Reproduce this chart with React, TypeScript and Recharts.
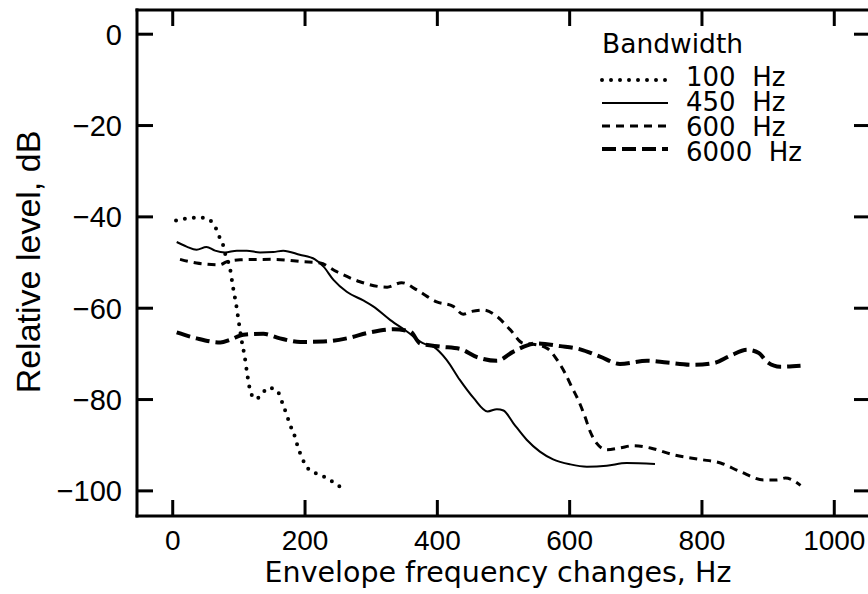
import { LineChart, Line, XAxis, YAxis, Legend } from 'recharts'

// envelope frequency (Hz) vs relative level (dB)
const FREQ_TICKS = [0, 200, 400, 600, 800, 1000]
const LEVEL_TICKS = [0, -20, -40, -60, -80, -100]

const bw100: [number, number][] = [
  [5, -40.8], [19, -40.4], [32, -40.2], [45, -40.2], [56, -40.7], [65, -42.4], [70, -44.2],
  [76, -46.1], [79, -47.9], [87, -51.6], [91, -55.3], [96, -59.3], [100, -63.2], [104, -66.9],
  [109, -70.8], [113, -74.8], [118, -78.5], [125, -79.9], [135, -78.8], [144, -77.4],
  [156, -77.9], [163, -79.5], [167, -81.4], [172, -83.1], [176, -85.0], [181, -86.8],
  [186, -88.7], [189, -90.4], [194, -92.2], [199, -93.9], [208, -95.6], [220, -96.3],
  [233, -97.2], [244, -98.2], [254, -99.2],
]

const bw450: [number, number][] = [
  [6, -45.5], [21, -46.5], [36, -47.2], [51, -46.6], [64, -47.4], [79, -47.8], [97, -47.4],
  [112, -47.4], [132, -47.8], [152, -47.7], [167, -47.4], [192, -48.3], [215, -49.3],
  [228, -50.9], [243, -53.8], [263, -56.4], [288, -58.3], [303, -59.6], [329, -62.6],
  [354, -65.1], [379, -67.7], [394, -68.4], [414, -71.3], [434, -75.7], [455, -79.7],
  [476, -82.6], [490, -82.1], [500, -82.4], [515, -85.2], [535, -88.8], [555, -91.4],
  [575, -93.1], [601, -94.2], [626, -94.7], [656, -94.5], [686, -93.9], [729, -94.1],
]

const bw600: [number, number][] = [
  [11, -49.3], [36, -50.1], [71, -50.5], [82, -49.8], [102, -49.4], [152, -49.3], [197, -49.8],
  [223, -50.1], [248, -52], [283, -54.2], [324, -55.4], [346, -54.4], [369, -56], [399, -58.6],
  [424, -59.6], [439, -61.3], [452, -60.7], [470, -60.4], [490, -61.8], [510, -64.7],
  [530, -67.7], [545, -67.9], [566, -68.8], [581, -71.3], [593, -74.2], [603, -77.2],
  [613, -80.1], [623, -83.7], [631, -87], [641, -89.6], [656, -91], [676, -90.6], [696, -90.1],
  [722, -90.6], [757, -92.1], [797, -93.1], [828, -93.9], [858, -95.8], [893, -97.6],
  [913, -97.6], [926, -97.2], [949, -98.8],
]

const bw6000: [number, number][] = [
  [6, -65.3], [36, -66.6], [72, -67.5], [87, -66.9], [107, -65.8], [137, -65.6], [162, -66.6],
  [193, -67.4], [228, -67.3], [263, -66.6], [298, -65.3], [334, -64.6], [359, -65.1],
  [374, -67.7], [404, -68.4], [434, -68.9], [460, -70.7], [490, -71.5], [515, -69.5],
  [550, -67.7], [586, -68.3], [616, -69], [646, -70.6], [676, -72.2], [717, -71.5],
  [747, -71.9], [787, -72.4], [818, -72], [843, -70.4], [868, -69.1], [886, -69.8],
  [898, -71.7], [918, -72.8], [949, -72.6],
]

const toPoints = (pairs: [number, number][]) => pairs.map(([x, y]) => ({ x, y }))

const SERIES = [
  { name: '100', data: toPoints(bw100), width: 4, dash: '0 9', cap: 'round' },
  { name: '450', data: toPoints(bw450), width: 2, dash: undefined, cap: 'butt' },
  { name: '600', data: toPoints(bw600), width: 3, dash: '8 6', cap: 'butt' },
  { name: '6000', data: toPoints(bw6000), width: 4, dash: '14 6', cap: 'butt' },
]

const X_DOMAIN = [-54, 1054]
const Y_DOMAIN = [-105.5, 5.3]
const TICK_LEN = 16
const frame = { stroke: '#000', strokeWidth: 3, strokeLinecap: 'square' as const }

const fmtLevel = (v: number) => (v < 0 ? `\u2212${-v}` : `${v}`)

const BottomTick = ({ x, y, payload }: any) => (
  <g>
    <line x1={x} x2={x} y1={y} y2={y - TICK_LEN} stroke="#000" strokeWidth={3} />
    <text x={x} y={y + 34} textAnchor="middle" fontFamily="Liberation Sans" fontSize={28} fill="#000">
      {payload.value}
    </text>
  </g>
)

const TopTick = ({ x, y }: any) => (
  <line x1={x} x2={x} y1={y} y2={y + TICK_LEN} stroke="#000" strokeWidth={3} />
)

const LeftTick = ({ x, y, payload }: any) => (
  <g>
    <line x1={x} x2={x + TICK_LEN} y1={y} y2={y} stroke="#000" strokeWidth={3} />
    <text x={x - 15} y={y + 10.5} textAnchor="end" fontFamily="Liberation Sans" fontSize={29} fill="#000">
      {fmtLevel(payload.value)}
    </text>
  </g>
)

const RightTick = ({ x, y }: any) => (
  <line x1={x} x2={x - TICK_LEN} y1={y} y2={y} stroke="#000" strokeWidth={3} />
)

const XTitle = () => (
  <text x={498} y={582} textAnchor="middle" fontFamily="DejaVu Sans" fontSize={28.5} fill="#000">
    Envelope frequency changes, Hz
  </text>
)

const YTitle = () => (
  <text
    x={40}
    y={262}
    transform="rotate(-90 40 262)"
    textAnchor="middle"
    fontFamily="Liberation Sans"
    fontSize={34}
    fill="#000"
  >
    Relative level, dB
  </text>
)

const BandwidthLegend = () => {
  const lineY = [60, 83, 106, 129]
  return (
    <svg width={240} height={150} style={{ display: 'block', overflow: 'visible' }}>
      {SERIES.map((s, i) => (
        <line
          key={s.name}
          x1={12}
          x2={78}
          y1={lineY[i]}
          y2={lineY[i]}
          stroke="#000"
          strokeWidth={s.width}
          strokeDasharray={s.dash}
          strokeLinecap={s.cap as any}
        />
      ))}
      <text fontFamily="DejaVu Sans" fontSize={26} fill="#000" style={{ whiteSpace: 'pre' }}>
        <tspan x={12} y={33} fontSize={26.5}>Bandwidth</tspan>
        {SERIES.map((s) => (
          <tspan key={s.name} x={96} dy={s.name === '100' ? 33 : 25}>{`${s.name}  Hz`}</tspan>
        ))}
      </text>
    </svg>
  )
}

export default function App() {
  return (
    <div style={{ position: 'absolute', left: 0, top: 0, width: 868, height: 594, overflow: 'hidden', background: '#fff' }}>
      <LineChart width={880} height={594} margin={{ top: 9, right: 9, bottom: 0, left: 0 }}>
        <XAxis
          dataKey="x"
          type="number"
          domain={X_DOMAIN}
          ticks={FREQ_TICKS}
          interval={0}
          allowDataOverflow
          height={78}
          tickSize={0}
          tickMargin={0}
          tickLine={false}
          axisLine={frame}
          tick={<BottomTick />}
          label={<XTitle />}
        />
        <XAxis
          xAxisId="top"
          orientation="top"
          dataKey="x"
          type="number"
          domain={X_DOMAIN}
          ticks={FREQ_TICKS}
          interval={0}
          allowDataOverflow
          height={1}
          tickSize={0}
          tickMargin={0}
          tickLine={false}
          axisLine={frame}
          tick={<TopTick />}
        />
        <YAxis
          type="number"
          domain={Y_DOMAIN}
          ticks={LEVEL_TICKS}
          interval={0}
          allowDataOverflow
          width={137}
          tickSize={0}
          tickMargin={0}
          tickLine={false}
          axisLine={frame}
          tick={<LeftTick />}
          label={<YTitle />}
        />
        <YAxis
          yAxisId="right"
          orientation="right"
          type="number"
          domain={Y_DOMAIN}
          ticks={LEVEL_TICKS}
          interval={0}
          allowDataOverflow
          width={1}
          tickSize={0}
          tickMargin={0}
          tickLine={false}
          axisLine={frame}
          tick={<RightTick />}
        />
        <Legend
          layout="vertical"
          align="center"
          verticalAlign="middle"
          wrapperStyle={{ left: 590, top: 20, width: 240, height: 150 }}
          content={() => <BandwidthLegend />}
        />
        {SERIES.map((s) => (
          <Line
            key={s.name}
            data={s.data}
            dataKey="y"
            name={`${s.name} Hz`}
            type="monotone"
            stroke="#000"
            strokeWidth={s.width}
            strokeDasharray={s.dash}
            strokeLinecap={s.cap as any}
            dot={false}
            activeDot={false}
            isAnimationActive={false}
          />
        ))}
      </LineChart>
    </div>
  )
}
